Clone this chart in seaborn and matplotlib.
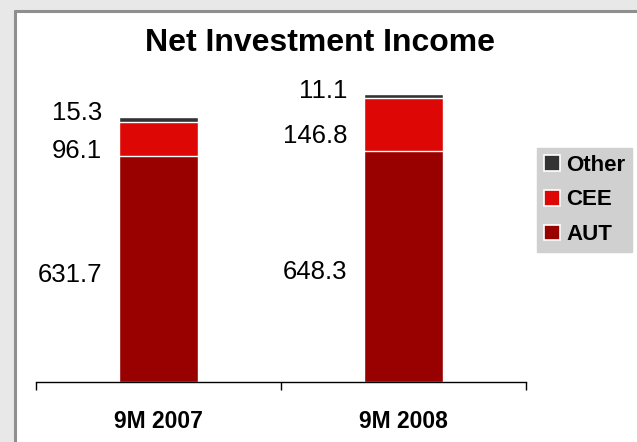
import matplotlib
matplotlib.use("Agg")
import matplotlib.pyplot as plt
from matplotlib.patches import Rectangle, Patch
from matplotlib.lines import Line2D
import seaborn as sns
import pandas as pd
import numpy as np

# Net investment income by region (EUR m)
periods = ["9M 2007", "9M 2008"]
aut = [631.7, 648.3]
cee = [96.1, 146.8]
other = [15.3, 11.1]
series_names = ["AUT", "CEE", "Other"]
series_colors = {"AUT": "#990000", "CEE": "#dd0806", "Other": "#333333"}

sns.set_theme(style="white")
plt.rcParams["font.family"] = ["Liberation Sans", "DejaVu Sans"]
plt.rcParams["text.color"] = "black"
plt.rcParams["xtick.color"] = "black"

W, H, DPI = 637, 442, 100
fig = plt.figure(figsize=(W / DPI, H / DPI), dpi=DPI)
fig.patch.set_facecolor("#e8e8e8")

# white panel with a grey frame on the left and top
panel = Rectangle((15 / W, 0), 1, 1 - 11 / H, transform=fig.transFigure,
                  facecolor="white", edgecolor="none", zorder=-10)
fig.add_artist(panel)
fig.add_artist(Line2D([15 / W, 15 / W], [0, 1 - 11 / H], transform=fig.transFigure,
                      color="#8f8f8f", lw=2.2, zorder=-9))
fig.add_artist(Line2D([15 / W, 1], [1 - 11 / H, 1 - 11 / H], transform=fig.transFigure,
                      color="#8f8f8f", lw=2.2, zorder=-9))

ax = fig.add_axes([36 / W, 60 / H, 490 / W, 321.3 / H])
ax.set_zorder(2)
ax.set_facecolor("none")

df = pd.DataFrame({"period": periods, "AUT": aut, "CEE": cee, "Other": other})
df["AUT+CEE"] = df["AUT"] + df["CEE"]
df["Total"] = df["AUT+CEE"] + df["Other"]

bar_w = 0.32
# stacked segments drawn as overlaid cumulative bars, tallest first
for col, name in [("Total", "Other"), ("AUT+CEE", "CEE"), ("AUT", "AUT")]:
    sns.barplot(data=df, x="period", y=col, order=periods, color=series_colors[name],
                saturation=1, width=bar_w, edgecolor="white", linewidth=1.0, ax=ax)

ax.set_xlim(-0.5, 1.5)
ax.set_ylim(0, 900)
ax.set_xlabel("")
ax.set_ylabel("")
ax.set_yticks([])
for s in ["left", "right", "top"]:
    ax.spines[s].set_visible(False)
ax.spines["bottom"].set_color("black")
ax.spines["bottom"].set_linewidth(1.0)

ax.set_xticks([0, 1])
ax.set_xticklabels(periods, fontsize=16.5, fontweight="bold", color="black")
ax.tick_params(axis="x", which="major", bottom=True, length=0, pad=20)
ax.set_xticks([-0.5, 0.5, 1.5], minor=True)
ax.tick_params(axis="x", which="minor", bottom=True, length=6, width=1.0,
               color="black", direction="out")

# value labels to the left of each bar
label_x = -0.23
bottoms = np.zeros(len(periods))
vals = {"AUT": aut, "CEE": cee, "Other": other}
for name in series_names:
    v = np.array(vals[name])
    for i, (b, h) in enumerate(zip(bottoms, v)):
        if name == "Other":
            y, dy = b + h, 2.4
        elif name == "CEE":
            y, dy = b + h / 2, -8.2
        else:
            y, dy = b + h / 2, -4.0
        ax.annotate(f"{h:.1f}", xy=(i + label_x, y), xytext=(0, dy), textcoords="offset points",
                    ha="right", va="center", fontsize=18.5, color="black")
    bottoms = bottoms + v

fig.text(320 / W, 1 - 43 / H, "Net Investment Income", ha="center", va="center",
         fontsize=23, fontweight="bold", color="black")

handles = [Patch(facecolor=series_colors[n], edgecolor="white", linewidth=1.2, label=n)
           for n in ["Other", "CEE", "AUT"]]
leg = fig.legend(handles=handles, loc="upper left", bbox_to_anchor=(537 / W, 1 - 148 / H),
                 bbox_transform=fig.transFigure, frameon=True, fancybox=False,
                 facecolor="#d0d0d0", edgecolor="#d0d0d0", framealpha=1, labelcolor="black",
                 prop={"weight": "bold", "size": 16}, handlelength=0.72, handleheight=0.72,
                 handletextpad=0.3, labelspacing=0.62, borderpad=0.3, borderaxespad=0)
leg.set_zorder(5)

fig.savefig("out.png", dpi=DPI, facecolor=fig.get_facecolor())
